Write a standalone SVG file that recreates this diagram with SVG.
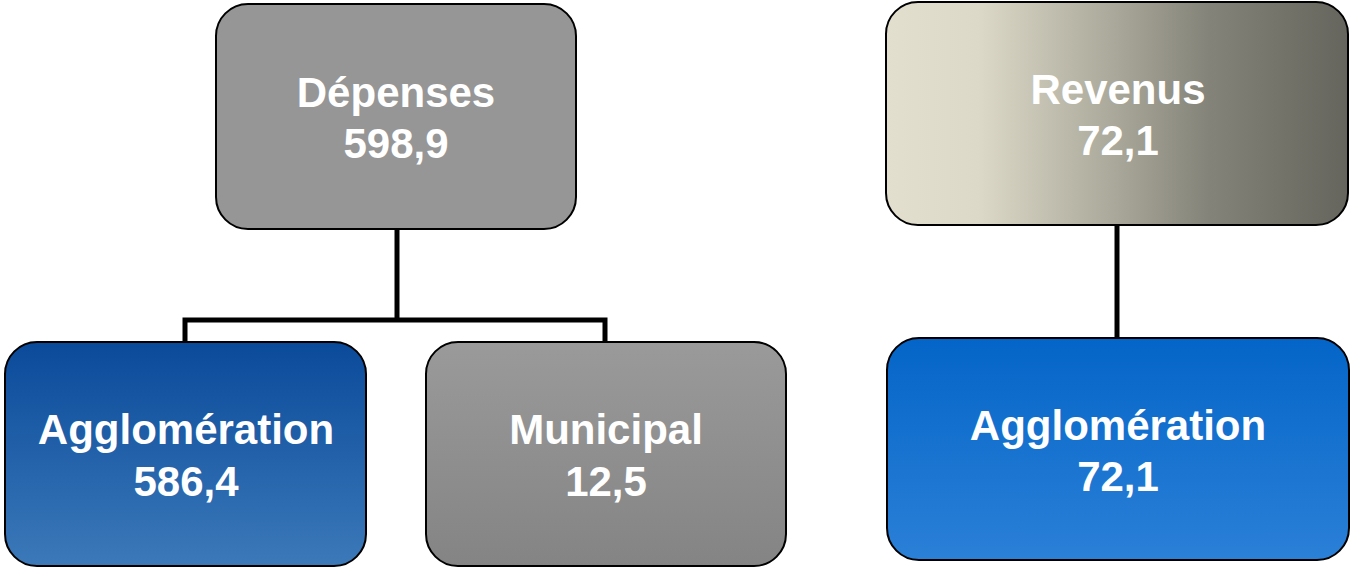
<svg xmlns="http://www.w3.org/2000/svg" width="1351" height="568" viewBox="0 0 1351 568">
<style>
.box{stroke:#000;stroke-width:2}
.t{font-family:"Liberation Sans",Arial,sans-serif;font-weight:bold;font-size:42px;fill:#fff;text-anchor:middle}
.c{fill:none;stroke:#000;stroke-width:5}
</style>
<defs>
<linearGradient id="gBlueL" x1="0" y1="0" x2="0" y2="1"><stop offset="0" stop-color="#0a4a9a"/><stop offset="1" stop-color="#3b79b9"/></linearGradient>
<linearGradient id="gGray" x1="0" y1="0" x2="0" y2="1"><stop offset="0" stop-color="#9a9a9a"/><stop offset="1" stop-color="#848484"/></linearGradient>
<linearGradient id="gRev" x1="0" y1="0" x2="1" y2="0"><stop offset="0" stop-color="#e2dfcf"/><stop offset="0.2" stop-color="#dcd9c8"/><stop offset="0.5" stop-color="#a9a799"/><stop offset="0.7" stop-color="#848379"/><stop offset="1" stop-color="#65655d"/></linearGradient>
<linearGradient id="gBlueR" x1="0" y1="0" x2="0" y2="1"><stop offset="0" stop-color="#0465c8"/><stop offset="1" stop-color="#2b80d7"/></linearGradient>
</defs>
<g id="connectors">
<polyline class="c" points="397,229 397,320"/>
<polyline class="c" points="185,342 185,320 605,320 605,342"/>
<polyline class="c" points="1117,225 1117,338"/>
</g>
<g id="depenses">
<rect class="box" x="216" y="4" width="360" height="225" rx="32" fill="#969696"/>
<text class="t" x="396" y="107">Dépenses</text>
<text class="t" x="396" y="158">598,9</text>
</g>
<g id="agglo-dep">
<rect class="box" x="5" y="342" width="361" height="224" rx="32" fill="url(#gBlueL)"/>
<text class="t" x="186" y="444">Agglomération</text>
<text class="t" x="186" y="496">586,4</text>
</g>
<g id="municipal">
<rect class="box" x="426" y="342" width="360" height="224" rx="32" fill="url(#gGray)"/>
<text class="t" x="606" y="444">Municipal</text>
<text class="t" x="606" y="496">12,5</text>
</g>
<g id="revenus">
<rect class="box" x="886" y="2" width="462" height="223" rx="32" fill="url(#gRev)"/>
<text class="t" x="1118" y="104">Revenus</text>
<text class="t" x="1118" y="155">72,1</text>
</g>
<g id="agglo-rev">
<rect class="box" x="887" y="338" width="462" height="222" rx="32" fill="url(#gBlueR)"/>
<text class="t" x="1118" y="440">Agglomération</text>
<text class="t" x="1118" y="491">72,1</text>
</g>
</svg>
